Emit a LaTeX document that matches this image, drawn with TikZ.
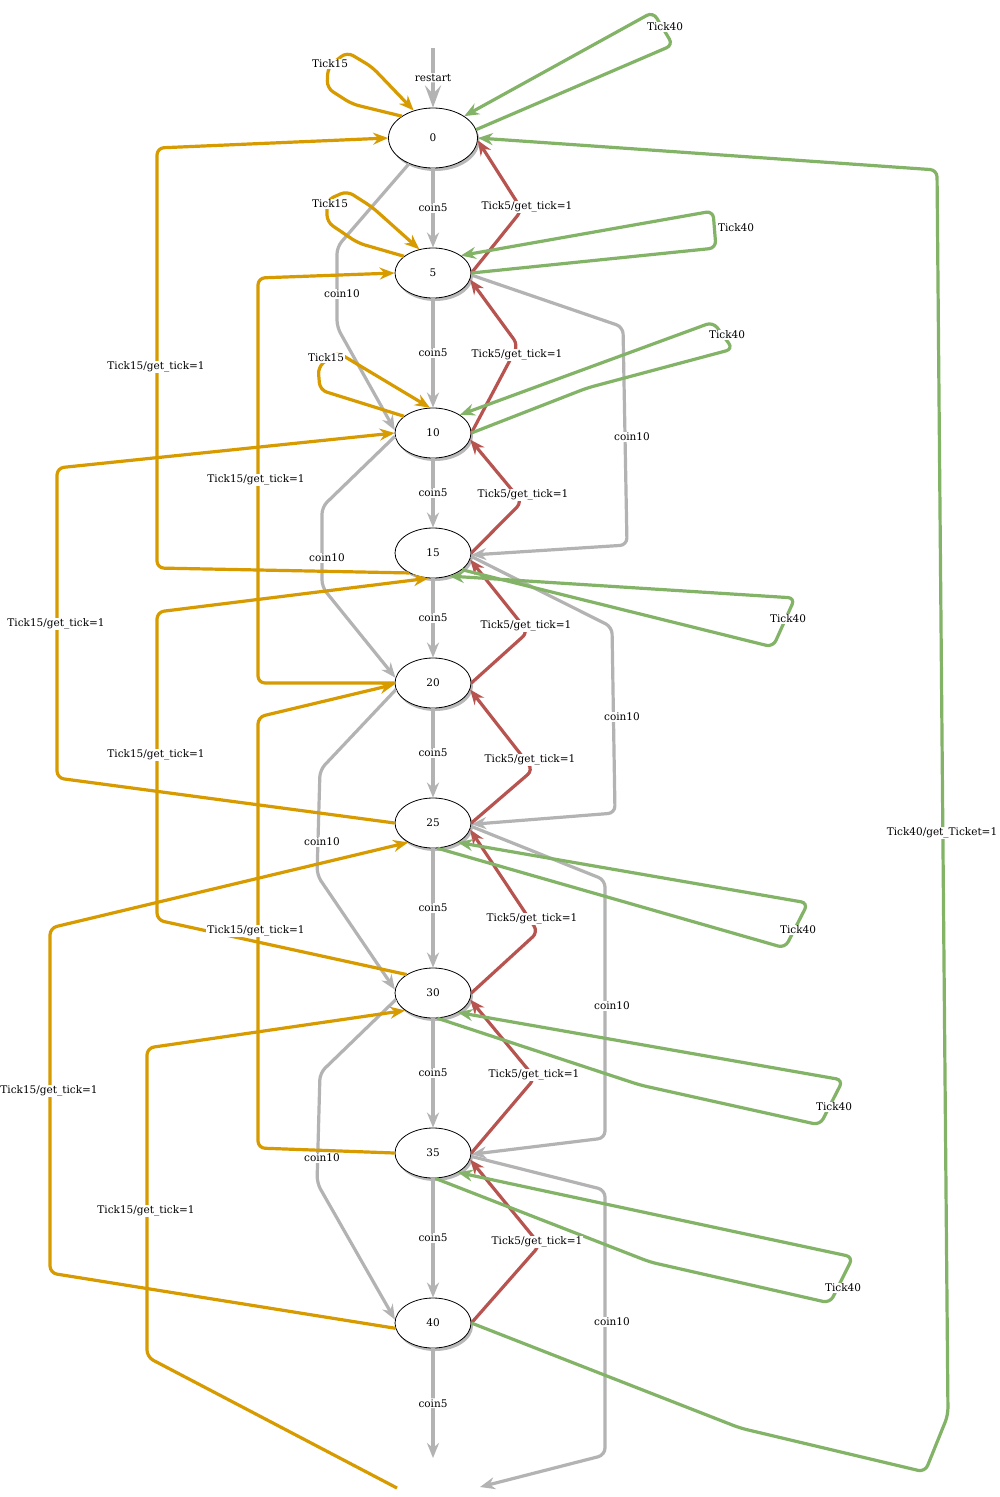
\documentclass[tikz,border=0pt]{standalone}
\usepackage{fontspec}
\setmainfont{DejaVu Serif}
\usetikzlibrary{arrows.meta,shapes.geometric,shadows}
\definecolor{cgray}{HTML}{B3B3B3}
\definecolor{corange}{HTML}{D79B00}
\definecolor{cgreen}{HTML}{82B366}
\definecolor{cred}{HTML}{B85450}
\begin{document}
\begin{tikzpicture}[x=1pt,y=-1pt,
 st/.style={ellipse,draw,line width=0.8pt,fill=white,minimum width=76pt,minimum height=50pt,inner sep=0pt,font=\fontsize{10.5}{12}\selectfont,drop shadow={shadow xshift=2pt,shadow yshift=-3pt,fill=black!28,opacity=1}},
 lbl/.style={fill=white,inner sep=1pt,font=\fontsize{10.5}{12}\selectfont},
 tr/.style={line width=3.2pt,rounded corners=7pt,-{Stealth[length=15pt,width=12pt,inset=5pt]}},
 coin/.style={tr,draw=cgray},
 tk5/.style={tr,draw=cred},
 tk15/.style={tr,draw=corange},
 tk40/.style={tr,draw=cgreen}]
\useasboundingbox[fill=white] (0,0) rectangle (999,1497);
\node[st,minimum width=89pt,minimum height=60pt] (n0) at (433,138) {0};
\node[st] (n5) at (433,273) {5};
\node[st] (n10) at (433,433) {10};
\node[st] (n15) at (433,553) {15};
\node[st] (n20) at (433,683) {20};
\node[st] (n25) at (433,823) {25};
\node[st] (n30) at (433,993) {30};
\node[st] (n35) at (433,1153) {35};
\node[st] (n40) at (433,1323) {40};
\coordinate (rs) at (433,48);
\coordinate (n45) at (433,1458);
\coordinate (m45) at (480,1487);
\coordinate (o45) at (397,1488);

\draw[coin,line width=4.5pt,-{Stealth[length=22pt,width=16pt,inset=8pt]}] (rs) -- node[lbl] (lrs) {restart} (n0);
\foreach \a/\b in {0/5,5/10,10/15,15/20,20/25,25/30,30/35,35/40,40/45}
 \draw[coin] (n\a) -- node[lbl] (c\a) {coin5} (n\b);

\draw[coin] (n0.-133) -- (337,247) -- (337,327) -- (n10.176);
\draw[coin] (n10.185) -- (322,507) -- (322,587) -- (n20.172);
\draw[coin] (n20.190) -- (320,770) -- (317,875) -- (n30.175);
\draw[coin] (n30.190) -- (320,1073) -- (317,1183) -- (n40.175);
\draw[coin] (n5.-3) -- (623,327) -- (627,545) -- (n15.-3);
\draw[coin] (n15.-5) -- (612,627) -- (615,813) -- (n25.-2);
\draw[coin] (n25.-5) -- (605,880) -- (605,1138) -- (n35.-2);
\draw[coin] (n35.-5) -- (605,1190) -- (605,1455) -- (m45);

\draw[tk5] (n5.east) -- (522,210) -- (n0.-3);
\draw[tk5] (n10.east) -- (518,345) -- (n5.-10);
\draw[tk5] (n15.east) -- (522,502) -- (n10.-10);
\draw[tk5] (n20.east) -- (528,632) -- (n15.-10);
\draw[tk5] (n25.east) -- (533,770) -- (n20.-10);
\draw[tk5] (n30.east) -- (538,932) -- (n25.-10);
\draw[tk5] (n35.east) -- (535,1078) -- (n30.-10);
\draw[tk5] (n40.east) -- (540,1245) -- (n35.-10);

\draw[tk40] (n0.11) -- (673,45) -- (653,12) -- (n0.35);
\draw[tk40] (n5.east) -- (716,248) -- (713,211) -- (n5.32);
\draw[tk40] (n10.east) -- (587,388) -- (733,349) -- (713,322) -- (n10.34);
\draw[tk40] (n15.-30) -- (773,647) -- (795,598) -- (n15.-55);
\draw[tk40] (n25.-80) -- (785,948) -- (808,903) -- (n25.-38);
\draw[tk40] (n30.-80) -- (640,1085) -- (820,1125) -- (843,1080) -- (n30.-38);
\draw[tk40] (n35.-85) -- (650,1262) -- (830,1303) -- (853,1257) -- (n35.-38);
\draw[tk40] (n40.east) -- (740,1428) -- (925,1472) -- (948,1415) -- (937,170) -- (n0.east);

\draw[tk15] (n0.145) -- (352,104) -- (327,88) -- (328,67) -- (347,52) -- (372,67) -- (n0.125);
\draw[tk15] (n5.150) -- (358,243) -- (327,222) -- (327,200) -- (347,191) -- (372,207) -- (n5.120);
\draw[tk15] (n10.150) -- (320,390) -- (318,367) -- (337,352) -- (n10.97);
\draw[tk15] (n15.-140) -- (157,568) -- (157,148) -- (n0.west);
\draw[tk15] (n20.west) -- (258,683) -- (258,278) -- (n5.west);
\draw[tk15] (n25.west) -- (57,778) -- (57,468) -- (n10.west);
\draw[tk15] (n30.145) -- (157,920) -- (157,612) -- (n15.-100);
\draw[tk15] (n35.west) -- (258,1148) -- (258,717) -- (n20.182);
\draw[tk15] (n40.188) -- (50,1273) -- (50,928) -- (n25.-142);
\draw[tk15] (o45) -- (147,1357) -- (147,1048) -- (n30.-148);

\node[lbl] (d0) at (342,294) {coin10};
\node[lbl] (d10) at (327,558) {coin10};
\node[lbl] (d20) at (322,842) {coin10};
\node[lbl] (d30) at (322,1158) {coin10};
\node[lbl] (d5) at (632,437) {coin10};
\node[lbl] (d15) at (622,717) {coin10};
\node[lbl] (d25) at (612,1006) {coin10};
\node[lbl] (d35) at (612,1322) {coin10};
\node[lbl] (r5) at (527,207) {Tick5/get\_tick=1};
\node[lbl] (r10) at (517,355) {Tick5/get\_tick=1};
\node[lbl] (r15) at (523,495) {Tick5/get\_tick=1};
\node[lbl] (r20) at (526,626) {Tick5/get\_tick=1};
\node[lbl] (r25) at (530,760) {Tick5/get\_tick=1};
\node[lbl] (r30) at (532,919) {Tick5/get\_tick=1};
\node[lbl] (r35) at (534,1075) {Tick5/get\_tick=1};
\node[lbl] (r40) at (537,1242) {Tick5/get\_tick=1};
\node[lbl] (g0) at (665,27) {Tick40};
\node[lbl] (g5) at (736,228) {Tick40};
\node[lbl] (g10) at (727,335) {Tick40};
\node[lbl] (g15) at (788,619) {Tick40};
\node[lbl] (g25) at (798,930) {Tick40};
\node[lbl] (g30) at (834,1107) {Tick40};
\node[lbl] (g35) at (843,1288) {Tick40};
\node[lbl] (g40) at (942,833) {Tick40/get\_Ticket=1};
\node[lbl] (y0) at (330,64) {Tick15};
\node[lbl] (y5) at (330,204) {Tick15};
\node[lbl] (y10) at (326,358) {Tick15};
\node[lbl] (y15) at (156,367) {Tick15/get\_tick=1};
\node[lbl] (y20) at (256,480) {Tick15/get\_tick=1};
\node[lbl] (y25) at (56,624) {Tick15/get\_tick=1};
\node[lbl] (y30) at (156,755) {Tick15/get\_tick=1};
\node[lbl] (y35) at (256,931) {Tick15/get\_tick=1};
\node[lbl] (y40) at (49,1091) {Tick15/get\_tick=1};
\node[lbl] (y45) at (146,1211) {Tick15/get\_tick=1};
\end{tikzpicture}
\end{document}
